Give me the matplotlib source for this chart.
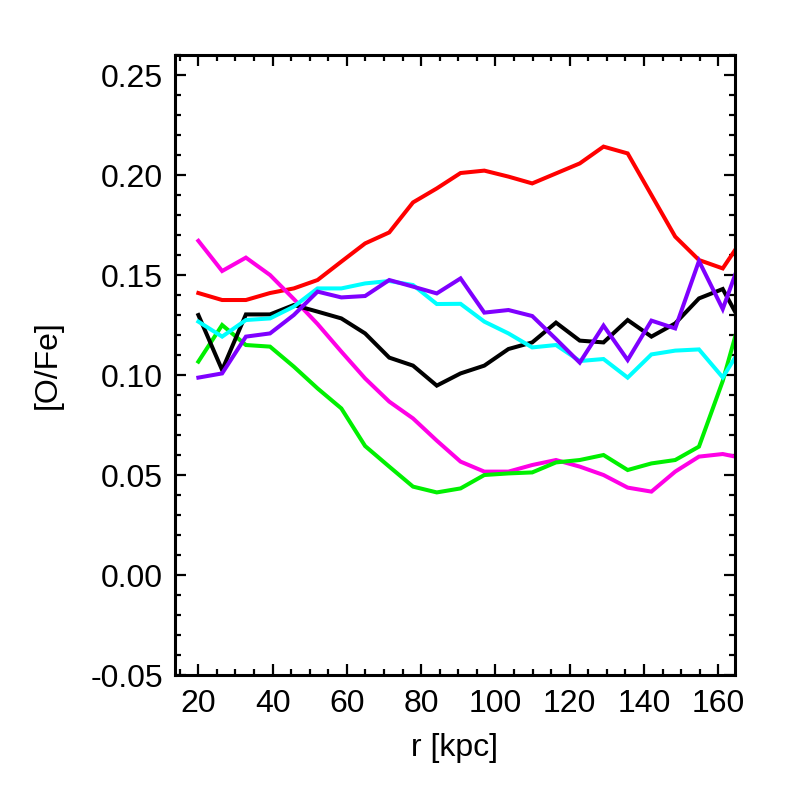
import matplotlib
matplotlib.use('Agg')
import matplotlib.pyplot as plt
from matplotlib.ticker import MultipleLocator, FormatStrFormatter

# ── Data ──────────────────────────────────────────────────────────────────────
r = [20.0, 26.4, 32.8, 39.3, 45.7, 52.1, 58.5, 64.9, 71.4, 77.8, 84.2, 90.6,
     97.0, 103.5, 109.9, 116.3, 122.7, 129.1, 135.6, 142.0, 148.4, 154.8,
     161.2, 167.7]

red     = [0.141, 0.1375, 0.1375, 0.141, 0.1433, 0.1475, 0.1567, 0.1658,
           0.1713, 0.1863, 0.1933, 0.201, 0.2022, 0.1992, 0.1958, 0.2008,
           0.2058, 0.2142, 0.2108, 0.190, 0.1692, 0.1575, 0.1533, 0.1713]
magenta = [0.1671, 0.152, 0.1587, 0.150, 0.138, 0.1255, 0.1117, 0.0983,
           0.0867, 0.0783, 0.0672, 0.0567, 0.0517, 0.0517, 0.055, 0.0575,
           0.0542, 0.050, 0.0437, 0.0417, 0.0517, 0.0592, 0.0605, 0.058]
green   = [0.1067, 0.125, 0.115, 0.1142, 0.1042, 0.0933, 0.0833, 0.0645,
           0.0542, 0.0442, 0.0413, 0.0433, 0.050, 0.0508, 0.0513, 0.0563,
           0.0575, 0.060, 0.0525, 0.0558, 0.0575, 0.0642, 0.097, 0.140]
black   = [0.130, 0.1025, 0.1303, 0.1303, 0.135, 0.1317, 0.1283, 0.1208,
           0.1087, 0.1047, 0.0947, 0.1008, 0.1047, 0.113, 0.1163, 0.1262,
           0.1172, 0.1163, 0.1275, 0.1192, 0.1258, 0.1383, 0.143, 0.1208]
cyan    = [0.1267, 0.1192, 0.1275, 0.1283, 0.1342, 0.1433, 0.1433, 0.1458,
           0.147, 0.145, 0.1355, 0.1356, 0.1267, 0.1208, 0.1138, 0.115,
           0.107, 0.108, 0.0987, 0.1103, 0.1122, 0.1128, 0.0988, 0.1182]
purple  = [0.0987, 0.1008, 0.1192, 0.1208, 0.130, 0.1417, 0.1388, 0.1395,
           0.1475, 0.1442, 0.1408, 0.1483, 0.1312, 0.1325, 0.1295, 0.118,
           0.1062, 0.1247, 0.1075, 0.1272, 0.1233, 0.157, 0.133, 0.1663]

series = [(red, '#FF0000'), (magenta, '#FF00E6'), (green, '#00F000'),
          (black, '#000000'), (cyan, '#00FFFF'), (purple, '#7F00FF')]

# ── Figure ────────────────────────────────────────────────────────────────────
plt.rcParams['font.family'] = ['Liberation Sans', 'DejaVu Sans']
fig = plt.figure(figsize=(7.86, 7.86), dpi=100)
ax = fig.add_axes([0.2226, 0.1412, 0.7125, 0.7888])

for vals, col in series:
    ax.plot(r, vals, color=col, lw=2.9, solid_joinstyle='miter')

ax.set_xlim(13.7, 164.5)
ax.set_ylim(-0.05, 0.26)

ax.xaxis.set_major_locator(MultipleLocator(20))
ax.xaxis.set_minor_locator(MultipleLocator(5))
ax.yaxis.set_major_locator(MultipleLocator(0.05))
ax.yaxis.set_minor_locator(MultipleLocator(0.01))
ax.yaxis.set_major_formatter(FormatStrFormatter('%.2f'))

ax.tick_params(which='both', direction='in', top=True, right=True,
               width=1.6, labelsize=23)
ax.tick_params(which='major', length=8)
ax.tick_params(which='minor', length=4)
ax.tick_params(axis='x', pad=10)
ax.tick_params(axis='y', pad=8.5)
for spine in ax.spines.values():
    spine.set_linewidth(2.2)

ax.set_xlabel('r [kpc]', fontsize=23, labelpad=10)
ax.set_ylabel('[O/Fe]', fontsize=23, labelpad=20)

fig.savefig('out.png', dpi=100)
